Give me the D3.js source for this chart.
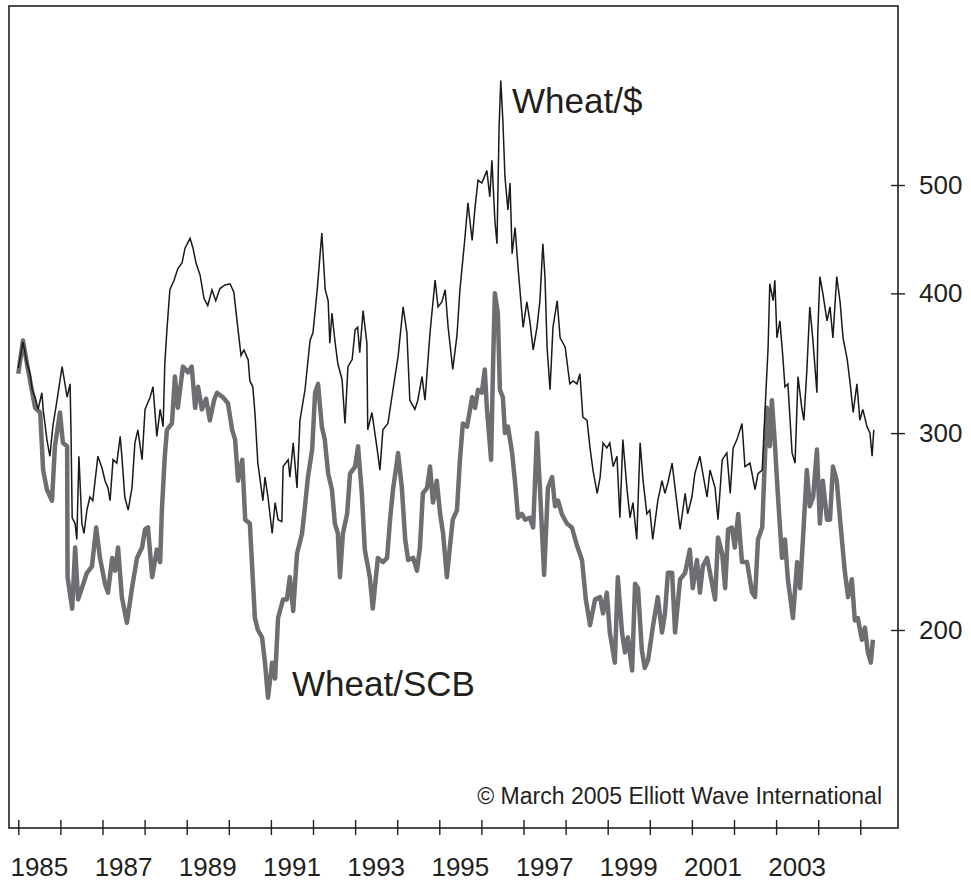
<!DOCTYPE html>
<html lang="en">
<head>
  <meta charset="UTF-8">
  <title>Wheat/$ vs Wheat/SCB</title>
  <style>
    body { margin: 0; background: #fff; }
    text { font-family: "Liberation Sans", Arial, sans-serif; fill: #231f20; }
  </style>
</head>
<body>

<svg id="chart" width="971" height="884"></svg>

<script src="https://d3js.org/d3.v7.min.js"></script>

<script>

    // [decimal year, value]
    var wheatUsd = [
      [1985.00,343],[1985.11,362],[1985.21,346],[1985.28,339],[1985.33,328],[1985.40,323],[1985.47,315],[1985.56,326],
      [1985.59,315],[1985.68,296],[1985.75,286],[1985.82,304],[1985.92,321],[1986.04,344],[1986.16,323],[1986.23,332],
      [1986.25,304],[1986.28,252],[1986.35,249],[1986.39,241],[1986.44,286],[1986.51,249],[1986.56,244],[1986.63,256],
      [1986.70,263],[1986.77,261],[1986.89,286],[1986.99,279],[1987.06,272],[1987.13,268],[1987.18,261],[1987.25,284],
      [1987.34,282],[1987.42,298],[1987.46,286],[1987.53,263],[1987.61,256],[1987.70,268],[1987.77,294],[1987.84,302],
      [1987.94,284],[1988.01,315],[1988.13,323],[1988.20,330],[1988.29,298],[1988.37,315],[1988.44,304],[1988.48,346],
      [1988.53,371],[1988.60,403],[1988.70,411],[1988.79,421],[1988.89,426],[1988.96,439],[1989.08,448],[1989.15,439],
      [1989.22,426],[1989.32,415],[1989.41,396],[1989.50,390],[1989.60,403],[1989.69,394],[1989.79,404],[1989.91,407],
      [1990.03,408],[1990.12,401],[1990.22,371],[1990.29,352],[1990.36,356],[1990.46,349],[1990.50,334],[1990.57,330],
      [1990.62,313],[1990.69,282],[1990.81,261],[1990.86,274],[1990.93,263],[1991.03,244],[1991.10,260],[1991.17,251],
      [1991.26,250],[1991.29,280],[1991.41,284],[1991.45,274],[1991.53,294],[1991.62,268],[1991.69,308],[1991.81,328],
      [1991.93,363],[1992.00,369],[1992.10,403],[1992.21,453],[1992.29,403],[1992.36,394],[1992.40,361],[1992.45,384],
      [1992.52,363],[1992.59,346],[1992.69,335],[1992.76,306],[1992.83,344],[1992.93,349],[1993.00,371],[1993.06,373],
      [1993.11,354],[1993.19,386],[1993.28,361],[1993.30,302],[1993.40,313],[1993.52,291],[1993.59,278],[1993.66,302],
      [1993.78,306],[1993.90,328],[1994.02,351],[1994.14,389],[1994.23,369],[1994.30,321],[1994.42,315],[1994.49,321],
      [1994.59,337],[1994.66,321],[1994.78,369],[1994.90,411],[1994.97,389],[1995.06,393],[1995.14,403],[1995.21,373],
      [1995.32,342],[1995.42,367],[1995.49,403],[1995.61,449],[1995.68,482],[1995.78,446],[1995.85,478],[1995.92,505],
      [1996.01,502],[1996.13,515],[1996.20,488],[1996.25,526],[1996.32,465],[1996.37,443],[1996.42,563],[1996.46,620],
      [1996.51,571],[1996.56,508],[1996.63,475],[1996.68,502],[1996.73,434],[1996.80,458],[1996.87,422],[1996.99,373],
      [1997.08,393],[1997.15,378],[1997.23,356],[1997.32,373],[1997.39,394],[1997.46,443],[1997.51,414],[1997.56,358],
      [1997.63,328],[1997.70,373],[1997.80,394],[1997.87,365],[1997.99,358],[1998.10,332],[1998.18,334],[1998.27,332],
      [1998.34,339],[1998.41,310],[1998.51,308],[1998.58,291],[1998.65,278],[1998.75,265],[1998.82,274],[1998.89,294],
      [1998.98,291],[1999.05,294],[1999.13,280],[1999.22,286],[1999.29,252],[1999.36,296],[1999.46,267],[1999.53,252],
      [1999.60,260],[1999.69,241],[1999.77,294],[1999.84,272],[1999.93,254],[2000.00,256],[2000.07,241],[2000.19,261],
      [2000.29,272],[2000.36,265],[2000.43,271],[2000.53,282],[2000.60,268],[2000.72,246],[2000.84,265],[2000.90,254],
      [2001.00,263],[2001.07,276],[2001.19,286],[2001.26,276],[2001.36,263],[2001.43,278],[2001.55,268],[2001.62,251],
      [2001.72,284],[2001.83,288],[2001.91,265],[2001.98,291],[2002.07,296],[2002.19,306],[2002.26,280],[2002.38,282],
      [2002.50,267],[2002.57,276],[2002.67,278],[2002.74,316],[2002.81,358],[2002.85,408],[2002.93,394],[2002.97,411],
      [2003.02,365],[2003.09,378],[2003.16,351],[2003.21,330],[2003.28,332],[2003.38,288],[2003.45,282],[2003.52,337],
      [2003.61,316],[2003.66,308],[2003.73,341],[2003.80,389],[2003.87,365],[2003.97,326],[2003.99,369],[2004.04,414],
      [2004.11,400],[2004.21,378],[2004.28,389],[2004.35,365],[2004.44,414],[2004.52,393],[2004.59,365],[2004.69,349],
      [2004.76,332],[2004.83,313],[2004.92,332],[2004.99,308],[2005.06,315],[2005.16,304],[2005.23,300],[2005.28,286],
      [2005.32,302]
    ];

    var wheatScb = [
      [1985.00,339],[1985.11,363],[1985.23,342],[1985.40,316],[1985.52,313],[1985.59,278],[1985.68,267],[1985.80,261],
      [1985.87,292],[1985.99,313],[1986.06,294],[1986.16,292],[1986.17,223],[1986.28,209],[1986.35,237],[1986.42,213],
      [1986.51,218],[1986.63,225],[1986.75,228],[1986.85,247],[1986.94,232],[1987.06,220],[1987.13,216],[1987.23,232],
      [1987.30,226],[1987.37,237],[1987.46,214],[1987.58,203],[1987.70,218],[1987.82,232],[1987.94,237],[1988.01,246],
      [1988.08,247],[1988.18,223],[1988.29,236],[1988.37,230],[1988.41,256],[1988.48,286],[1988.53,302],[1988.65,306],
      [1988.72,337],[1988.79,316],[1988.91,344],[1989.03,340],[1989.12,344],[1989.20,316],[1989.27,330],[1989.36,315],
      [1989.46,322],[1989.55,308],[1989.65,321],[1989.72,326],[1989.86,323],[1989.98,319],[1990.08,302],[1990.15,296],
      [1990.22,272],[1990.32,284],[1990.39,251],[1990.50,249],[1990.62,205],[1990.69,200],[1990.79,197],[1990.86,187],
      [1990.93,174],[1991.03,187],[1991.10,181],[1991.17,205],[1991.29,213],[1991.38,213],[1991.45,223],[1991.53,208],
      [1991.62,234],[1991.74,244],[1991.81,258],[1991.88,274],[1991.98,290],[1992.05,326],[1992.12,332],[1992.21,304],
      [1992.28,296],[1992.36,276],[1992.45,267],[1992.52,249],[1992.59,244],[1992.64,223],[1992.71,244],[1992.81,254],
      [1992.88,276],[1993.00,280],[1993.07,292],[1993.16,265],[1993.23,236],[1993.35,223],[1993.42,209],[1993.54,232],
      [1993.66,230],[1993.76,232],[1993.83,251],[1993.90,267],[1993.99,282],[1994.02,288],[1994.11,268],[1994.19,241],
      [1994.26,231],[1994.38,232],[1994.47,226],[1994.54,237],[1994.61,265],[1994.71,268],[1994.78,280],[1994.85,260],
      [1994.94,272],[1995.02,254],[1995.09,244],[1995.18,223],[1995.25,237],[1995.32,251],[1995.42,256],[1995.49,284],
      [1995.56,306],[1995.66,304],[1995.78,323],[1995.85,316],[1995.92,328],[1996.01,326],[1996.08,342],[1996.13,316],
      [1996.23,284],[1996.28,349],[1996.32,400],[1996.39,384],[1996.44,328],[1996.51,323],[1996.56,300],[1996.63,304],
      [1996.73,288],[1996.80,271],[1996.87,252],[1996.96,254],[1997.04,251],[1997.15,252],[1997.23,247],[1997.32,300],
      [1997.39,268],[1997.49,224],[1997.58,268],[1997.68,274],[1997.75,258],[1997.82,261],[1997.91,254],[1998.03,249],
      [1998.15,247],[1998.27,238],[1998.39,231],[1998.48,213],[1998.58,202],[1998.70,213],[1998.82,214],[1998.89,207],
      [1998.98,216],[1999.05,199],[1999.17,187],[1999.24,223],[1999.34,199],[1999.41,191],[1999.48,197],[1999.58,184],
      [1999.65,220],[1999.72,218],[1999.81,192],[1999.88,185],[1999.96,188],[2000.07,201],[2000.19,214],[2000.29,199],
      [2000.36,207],[2000.43,225],[2000.53,225],[2000.60,199],[2000.72,222],[2000.84,225],[2000.95,236],[2001.02,218],
      [2001.12,231],[2001.19,216],[2001.26,228],[2001.36,232],[2001.43,225],[2001.55,213],[2001.62,242],[2001.72,234],
      [2001.79,218],[2001.86,246],[2001.95,247],[2002.02,237],[2002.10,254],[2002.19,230],[2002.31,230],[2002.43,216],
      [2002.50,214],[2002.57,241],[2002.67,247],[2002.74,288],[2002.78,316],[2002.85,292],[2002.90,321],[2002.97,294],
      [2003.04,265],[2003.14,232],[2003.21,241],[2003.28,222],[2003.40,205],[2003.50,230],[2003.57,218],[2003.64,242],
      [2003.73,278],[2003.80,258],[2003.88,263],[2003.97,290],[2004.04,249],[2004.11,272],[2004.21,251],[2004.28,251],
      [2004.35,280],[2004.44,272],[2004.52,251],[2004.63,226],[2004.71,214],[2004.80,222],[2004.87,204],[2004.94,205],
      [2005.04,196],[2005.11,201],[2005.18,191],[2005.25,187],[2005.30,196]
    ];

    var yearTicks = d3.range(1985, 2006);
    var yearLabels = [1985, 1987, 1989, 1991, 1993, 1995, 1997, 1999, 2001, 2003];
    var valueTicks = [200, 300, 400, 500];

    var svg = d3.select("#chart"),
        frame = {left: 9, top: 6, right: 898, bottom: 828},
        x = d3.scaleLinear().domain([1985, 2005]).range([18.3, 860.3]),
        y = d3.scaleLog().domain([200, 500]).range([630, 185]),
        ink = "#231f20",
        grey = "#6d6e71";

    svg.append("rect")
      .attr("x", frame.left).attr("y", frame.top)
      .attr("width", frame.right - frame.left)
      .attr("height", frame.bottom - frame.top)
      .attr("fill", "none")
      .attr("stroke", ink)
      .attr("stroke-width", 1.6);

    var line = d3.line()
      .x(function (d) { return x(d[0]); })
      .y(function (d) { return y(d[1]); });

    svg.append("path")
      .datum(wheatScb)
      .attr("d", line)
      .attr("fill", "none")
      .attr("stroke", grey)
      .attr("stroke-width", 4.5)
      .attr("stroke-linejoin", "round");

    svg.append("path")
      .datum(wheatUsd)
      .attr("d", line)
      .attr("fill", "none")
      .attr("stroke", "#1a1a1a")
      .attr("stroke-width", 1.5)
      .attr("stroke-linejoin", "miter");

    // bottom ticks cross the frame line
    var xAxis = svg.append("g")
      .attr("transform", "translate(0," + (frame.bottom - 8) + ")")
      .call(d3.axisBottom(x).tickValues(yearTicks).tickSize(15).tickFormat(""));
    xAxis.select(".domain").remove();
    xAxis.selectAll("line").attr("stroke", ink).attr("stroke-width", 1.4);

    svg.append("g").selectAll("text")
      .data(yearLabels)
      .join("text")
      .attr("x", function (d) { return x(d + 0.5); })
      .attr("y", 876)
      .attr("text-anchor", "middle")
      .attr("font-size", 26)
      .text(function (d) { return d; });

    // right value axis, ticks straddle the frame edge
    var yAxis = svg.append("g")
      .attr("transform", "translate(" + (frame.right - 7) + ",0)")
      .call(d3.axisRight(y).tickValues(valueTicks).tickSize(14).tickPadding(14).tickFormat(d3.format("d")));
    yAxis.select(".domain").remove();
    yAxis.selectAll("line").attr("stroke", ink).attr("stroke-width", 1.4);
    yAxis.selectAll("text")
      .attr("font-size", 26)
      .attr("font-family", "Liberation Sans, Arial, sans-serif")
      .attr("fill", ink);

    svg.append("text")
      .attr("x", 512).attr("y", 113)
      .attr("font-size", 35)
      .text("Wheat/$");

    svg.append("text")
      .attr("x", 292).attr("y", 696)
      .attr("font-size", 35)
      .text("Wheat/SCB");

    svg.append("text")
      .attr("x", 882).attr("y", 804)
      .attr("text-anchor", "end")
      .attr("font-size", 23)
      .text("\u00a9 March 2005 Elliott Wave International");

</script>

</body>
</html>
